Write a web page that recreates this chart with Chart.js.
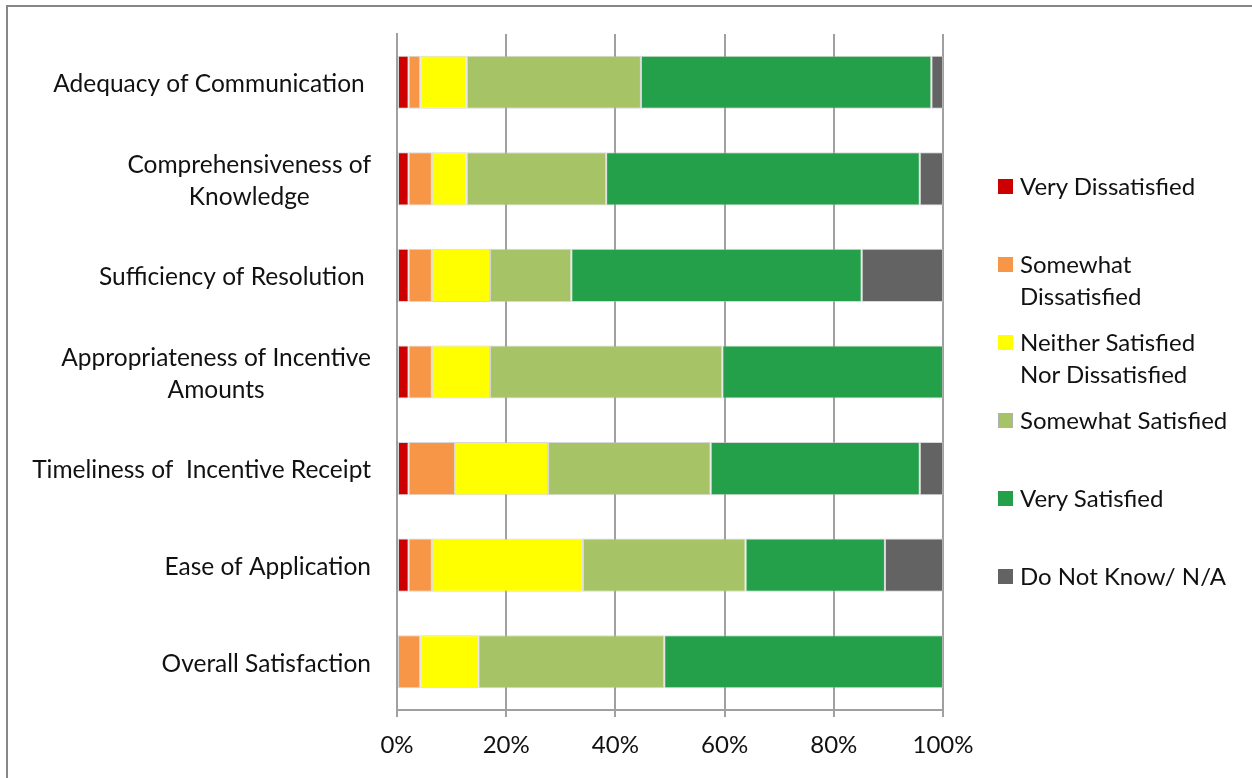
<!DOCTYPE html>
<html>
<head>
<meta charset="utf-8">
<script src="https://cdn.jsdelivr.net/npm/chart.js@4.4.1/dist/chart.umd.min.js"></script>
<style>
  html, body { margin: 0; padding: 0; background: #fff; overflow: hidden; }
  #wrap { position: relative; width: 1252px; height: 778px; }
  #frame { position: absolute; left: 6px; top: 5px; width: 1400px; height: 900px; border: 2px solid #878787; }
  #legend { position: absolute; left: 998px; top: 170px; font-family: Lato, sans-serif; font-size: 24px; color: #111; }
  .item { height: 78px; display: flex; align-items: flex-start; }
  .sw { width: 15px; height: 15px; margin-top: 9px; margin-right: 7px; flex: none; box-sizing: border-box; }
  .txt { line-height: 32px; white-space: nowrap; }
  canvas { position: absolute; left: 0; top: 0; }
</style>
</head>
<body>
<div id="wrap">
  <div id="frame"></div>
  <canvas id="chart" width="1252" height="778"></canvas>
  <div id="legend"></div>
</div>
<script>
// DATA (percent of respondents)
const categories = [
  ['Adequacy of Communication '],
  ['Comprehensiveness of', 'Knowledge'],
  ['Sufficiency of Resolution '],
  ['Appropriateness of Incentive', 'Amounts'],
  ['Timeliness of  Incentive Receipt'],
  ['Ease of Application'],
  ['Overall Satisfaction']
];
const veryDissatisfied     = [2.13, 2.13, 2.13, 2.13, 2.13, 2.13, 0];
const somewhatDissatisfied = [2.13, 4.26, 4.26, 4.26, 8.51, 4.26, 4.26];
const neither              = [8.51, 6.38, 10.64, 10.64, 17.02, 27.66, 10.64];
const somewhatSatisfied    = [31.91, 25.53, 14.89, 42.55, 29.79, 29.79, 34.04];
const verySatisfied        = [53.19, 57.45, 53.19, 40.43, 38.30, 25.53, 51.06];
const doNotKnow            = [2.13, 4.26, 14.89, 0, 4.26, 10.64, 0];

const seriesNames = [
  ['Very Dissatisfied'],
  ['Somewhat', 'Dissatisfied'],
  ['Neither Satisfied', 'Nor Dissatisfied'],
  ['Somewhat Satisfied'],
  ['Very Satisfied'],
  ['Do Not Know/ N/A']
];
const seriesValues = [veryDissatisfied, somewhatDissatisfied, neither, somewhatSatisfied, verySatisfied, doNotKnow];
const seriesColors = ['#cc0000', '#f79646', '#ffff00', '#a6c465', '#24a04a', '#636363'];
const xTicks = [0, 20, 40, 60, 80, 100];

const FONT = 'Lato, sans-serif';
const FONT_SIZE = 24;
const gridGray = '#a0a0a0';

// Y LABELS (centered lines, right-aligned block, like Excel)
const yLabelPlugin = {
  id: 'yLabels',
  afterDraw(chart) {
    const ctx = chart.ctx;
    const y = chart.scales.y;
    const right = chart.chartArea.left - 26;
    ctx.save();
    ctx.font = '24.5px ' + FONT;
    ctx.fillStyle = '#111';
    ctx.textAlign = 'center';
    ctx.textBaseline = 'middle';
    categories.forEach((lines, i) => {
      const cy = y.getPixelForTick(i) + 2;
      const w = Math.max(...lines.map(l => ctx.measureText(l).width));
      const cx = right - w / 2;
      lines.forEach((l, j) => ctx.fillText(l, cx, cy + (j - (lines.length - 1) / 2) * 32));
    });
    ctx.restore();
  }
};

new Chart(document.getElementById('chart'), {
  type: 'bar',
  data: {
    labels: categories,
    datasets: seriesValues.map((vals, i) => ({
      label: seriesNames[i].join(' '),
      data: vals,
      backgroundColor: seriesColors[i],
      borderColor: 'rgba(190,190,190,0.6)',
      borderWidth: 1,
      borderSkipped: false,
      barPercentage: 0.55,
      categoryPercentage: 1
    }))
  },
  options: {
    indexAxis: 'y',
    responsive: false,
    animation: false,
    layout: { padding: { left: 397, right: 309, top: 34, bottom: 18 } },
    plugins: { legend: { display: false }, tooltip: { enabled: false } },
    scales: {
      x: {
        stacked: true,
        min: 0,
        max: 100,
        afterBuildTicks: s => { s.ticks = xTicks.map(v => ({ value: v })); },
        afterFit: s => { s.height = 50; },
        grid: { color: gridGray, lineWidth: 2, tickLength: 7 },
        border: { display: true, color: gridGray, width: 2 },
        ticks: {
          callback: v => v + '%',
          color: '#111',
          padding: 14,
          maxRotation: 0,
          font: { family: FONT, size: FONT_SIZE }
        }
      },
      y: {
        stacked: true,
        afterFit: s => { s.width = 0; },
        grid: { display: false },
        border: { display: true, color: gridGray, width: 2 },
        ticks: { display: false }
      }
    }
  },
  plugins: [yLabelPlugin]
});

// LEGEND
document.getElementById('legend').innerHTML = seriesNames.map((lines, i) => `
  <div class="item">
    <div class="sw" style="background:${seriesColors[i]};${i === 3 ? 'border:1px solid #b0b0b0;' : ''}"></div>
    <div class="txt">${lines.join('<br>')}</div>
  </div>`).join('');
</script>
</body>
</html>
